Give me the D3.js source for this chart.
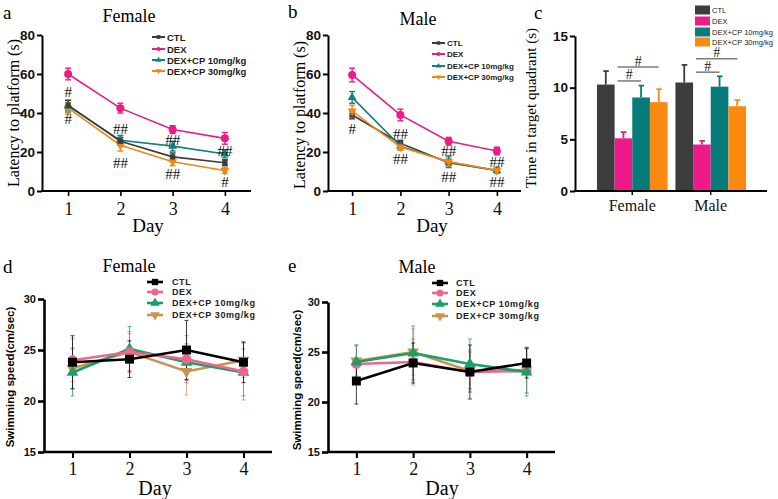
<!DOCTYPE html>
<html><head><meta charset="utf-8">
<script src="https://cdn.jsdelivr.net/npm/d3@7"></script>
<style>body{margin:0;background:#fff}svg{display:block}</style>
</head><body>
<svg id="fig" width="778" height="499"></svg>
<script>
// ---------- data ----------
const days = [1, 2, 3, 4];
const groups = ["CTL", "DEX", "DEX+CP 10mg/kg", "DEX+CP 30mg/kg"];
const sexes = ["Female", "Male"];

// (a) latency, female: rows = groups, cols = days
const latFemale    = [[44, 25.5, 17.5, 14.5], [60, 42.5, 31.5, 27], [43.5, 26, 23, 19], [42.5, 23.5, 15, 10.5]];
const latFemaleErr = [[2.5, 2, 2, 1.5], [3, 2.5, 2, 3], [3, 2.5, 2.5, 2], [3, 3, 2, 1.5]];
const latFemaleSig = [["#", 1, 51], ["#", 1, 37], ["##", 2, 32], ["##", 2, 14.5], ["##", 3, 26], ["##", 3, 8.5], ["##", 4, 20.5], ["#", 4, 4.6]];

// (b) latency, male
const latMale    = [[39, 24.5, 14.5, 10.5], [59.5, 39, 25.5, 20.5], [48, 23, 15, 10.5], [41, 22.5, 15, 10.5]];
const latMaleErr = [[2, 1.5, 1.5, 1], [3.5, 3, 2, 2], [3, 2, 3, 1.5], [3, 1.5, 2, 1.5]];
const latMaleSig = [["#", 1, 32], ["##", 2, 29], ["##", 2, 16.5], ["##", 3, 20.5], ["##", 3, 7], ["##", 4, 15], ["##", 4, 4.5]];

// (c) time in target quadrant: rows = sexes, cols = groups
const quadMean = [[10.3, 5.1, 9.05, 8.6], [10.5, 4.5, 10.1, 8.2]];
const quadErr  = [[1.3, 0.6, 1.15, 1.25], [1.7, 0.35, 1.0, 0.6]];
// significance: [sex, from group, to group, level]
const quadSig = [["Female", 1, 2, 10.65], ["Female", 1, 3, 12.0], ["Male", 1, 2, 11.5], ["Male", 1, 3, 12.8]];

// (d) swimming speed, female
const speedFemale    = [[23.8, 24.1, 25.0, 23.8], [24.0, 24.8, 24.1, 22.9], [22.8, 25.1, 23.8, 22.8], [23.2, 24.8, 22.9, 24.0]];
const speedFemaleErr = [[2.6, 1.8, 2.9, 2.0], [2.1, 1.8, 2.3, 2.8], [2.3, 2.2, 1.8, 2.3], [2.0, 2.0, 2.3, 1.7]];
// (e) swimming speed, male
const speedMale    = [[22.1, 23.9, 23.0, 23.9], [23.8, 24.0, 23.0, 23.1], [24.0, 24.9, 23.8, 23.0], [24.1, 25.0, 23.1, 23.2]];
const speedMaleErr = [[2.3, 2.0, 2.7, 1.5], [1.9, 2.3, 2.0, 2.2], [1.7, 2.7, 2.5, 2.4], [1.5, 2.3, 2.1, 2.3]];

const latTicks = [0, 20, 40, 60, 80];
const quadTicks = [0, 5, 10, 15];
const speedTicks = [15, 20, 25, 30];

// ---------- styles ----------
const colLat = ["#3c3c3c", "#ec1c84", "#12807e", "#f7850f"];
const colBar = ["#3d3d3d", "#ee1a8a", "#077a7a", "#f88a12"];
const colSpd = ["#000000", "#f06490", "#19a067", "#c99450"];
const SERIF = "'Liberation Serif','Times New Roman',serif";
const SANS = "'Liberation Sans',Arial,sans-serif";
const symTypes = [d3.symbolSquare, d3.symbolCircle, d3.symbolTriangle, d3.symbolTriangle];

const svg = d3.select("#fig");
svg.append("rect").attr("width", 778).attr("height", 499).attr("fill", "#fff");

function txt(x, y, s, o) {
  const t = svg.append("text").attr("x", x).attr("y", y).text(s)
    .attr("font-family", o.f || SERIF).attr("font-size", o.s || 16)
    .attr("fill", o.c || "#000").attr("text-anchor", o.a || "middle")
    .attr("dominant-baseline", "central");
  if (o.w) t.attr("font-weight", o.w);
  if (o.ls) t.attr("letter-spacing", o.ls);
  if (o.r) t.attr("transform", `rotate(${o.r},${x},${y})`);
  return t;
}

function linePanel(p) {
  const x = d3.scaleLinear().domain([0.5, 4.5]).range(p.xr);
  const y = d3.scaleLinear().domain(p.yd).range(p.yr);
  const g = svg.append("g");
  // y axis
  const ya = g.append("g").attr("transform", `translate(${p.xr[0]},0)`)
    .call(d3.axisLeft(y).tickValues(p.yt).tickSize(p.tick).tickSizeOuter(0).tickPadding(2).tickFormat(d3.format("d")));
  ya.select(".domain").attr("stroke-width", p.aw).attr("stroke", "#000");
  ya.selectAll(".tick line").attr("stroke-width", p.aw).attr("stroke", "#000");
  ya.selectAll(".tick text").attr("font-family", SANS).attr("font-weight", "bold")
    .attr("font-size", p.yfs).attr("fill", "#111");
  // x axis
  const xa = g.append("g").attr("transform", `translate(0,${p.yr[0]})`)
    .call(d3.axisBottom(x).tickValues(days).tickSize(p.tick).tickSizeOuter(0).tickPadding(p.xpad).tickFormat(d3.format("d")));
  xa.select(".domain").attr("stroke-width", p.aw).attr("stroke", "#000")
    .attr("d", `M${p.xr[0] - p.aw / 2},0H${p.xr[1]}`);
  xa.selectAll(".tick line").attr("stroke-width", p.aw * 0.8).attr("stroke", "#000");
  xa.selectAll(".tick text").attr("font-family", SERIF).attr("font-size", p.xfs).attr("fill", "#111");

  const line = d3.line().x((d, j) => x(days[j])).y(d => y(d));
  const order = p.order || [0, 1, 2, 3];
  // error bars
  order.forEach(i => {
    p.m[i].forEach((v, j) => {
      const cx = x(days[j]), e = p.e[i][j];
      const eg = g.append("g").attr("stroke", p.c[i]).attr("stroke-width", p.ew).attr("opacity", p.eo);
      eg.append("line").attr("x1", cx).attr("x2", cx).attr("y1", y(v - e)).attr("y2", y(v + e));
      eg.append("line").attr("x1", cx - p.cap).attr("x2", cx + p.cap).attr("y1", y(v + e)).attr("y2", y(v + e));
      eg.append("line").attr("x1", cx - p.cap).attr("x2", cx + p.cap).attr("y1", y(v - e)).attr("y2", y(v - e));
    });
  });
  order.forEach(i => {
    g.append("path").attr("d", line(p.m[i])).attr("fill", "none")
      .attr("stroke", p.c[i]).attr("stroke-width", p.lw);
    p.m[i].forEach((v, j) => {
      g.append("path").attr("d", d3.symbol().type(symTypes[i]).size(p.ms[i])())
        .attr("fill", p.c[i])
        .attr("transform", `translate(${x(days[j])},${y(v)})${i === 3 ? " rotate(180)" : ""}`);
    });
  });
  // significance marks
  (p.sig || []).forEach(s => {
    txt(x(s[1]), y(s[2]), s[0], { s: 15, c: "#111" });
  });
  // legend
  const L = p.leg;
  groups.forEach((name, i) => {
    const yy = L.ys[i];
    g.append("line").attr("x1", L.x).attr("x2", L.x + L.len).attr("y1", yy).attr("y2", yy)
      .attr("stroke", p.c[i]).attr("stroke-width", L.lw);
    g.append("path").attr("d", d3.symbol().type(symTypes[i]).size(L.ms)())
      .attr("fill", p.c[i])
      .attr("transform", `translate(${L.x + L.len / 2},${yy})${i === 3 ? " rotate(180)" : ""}`);
    txt(L.x + L.len + L.gap, yy, name, { f: SANS, w: "bold", s: L.fs, a: "start", c: "#222", ls: L.ls });
  });
  // labels
  txt(p.title[0], p.title[1], p.title[2], { s: p.tfs });
  txt(p.letter[0], p.letter[1], p.letter[2], { s: 19, a: "start" });
  txt(p.ylab[0], p.ylab[1], p.ylab[2], { f: p.ylabF, w: p.ylabW, s: p.ylabS, r: -90 });
  txt(p.day[0], p.day[1], "Day", { s: p.dfs });
}

// (a)
linePanel({
  xr: [42, 251], yd: [0, 80], yr: [191, 35], yt: latTicks, tick: 5, aw: 2, yfs: 13.5, xfs: 18, xpad: 6,
  m: latFemale, e: latFemaleErr, c: colLat, lw: 1.6, ew: 1.4, eo: 1, cap: 3, ms: [28, 50, 34, 34],
  order: [3, 2, 0, 1], sig: latFemaleSig,
  leg: { x: 152, len: 13, gap: 2, ys: [37, 49, 60, 71], lw: 2, ms: 14, fs: 9.5 },
  title: [129, 16, "Female"], tfs: 18, letter: [3, 12, "a"],
  ylab: [13, 113, "Latency to platform (s)"], ylabF: SERIF, ylabS: 16, day: [148, 225], dfs: 19
});
// (b)
linePanel({
  xr: [328, 521], yd: [0, 80], yr: [191, 35], yt: latTicks, tick: 5, aw: 2, yfs: 13.5, xfs: 18, xpad: 6,
  m: latMale, e: latMaleErr, c: colLat, lw: 1.6, ew: 1.4, eo: 1, cap: 3, ms: [28, 50, 34, 34],
  order: [0, 2, 3, 1], sig: latMaleSig,
  leg: { x: 432, len: 13, gap: 2, ys: [43, 54, 66, 77], lw: 2, ms: 12, fs: 8 },
  title: [418, 19, "Male"], tfs: 18, letter: [288, 11, "b"],
  ylab: [299, 115, "Latency to platform (s)"], ylabF: SERIF, ylabS: 16, day: [432, 225], dfs: 19
});
// (d)
linePanel({
  xr: [44, 272], yd: [15, 30], yr: [452, 299], yt: speedTicks, tick: 6, aw: 2.6, yfs: 11, xfs: 18, xpad: 4,
  m: speedFemale, e: speedFemaleErr, c: colSpd, lw: 2.6, ew: 1, eo: 0.75, cap: 2, ms: [80, 75, 60, 60],
  order: [3, 2, 1, 0], sig: [],
  leg: { x: 147, len: 16, gap: 9, ys: [282, 292, 303, 315], lw: 2.6, ms: 40, fs: 9, ls: 0.6 },
  title: [129, 266, "Female"], tfs: 18, letter: [3, 266, "d"],
  ylab: [10, 377, "Swimming speed(cm/sec)"], ylabF: SANS, ylabW: "bold", ylabS: 11.5, day: [155, 488], dfs: 20
});
// (e)
linePanel({
  xr: [328, 555], yd: [15, 30], yr: [452, 302], yt: speedTicks, tick: 6, aw: 2.6, yfs: 11, xfs: 18, xpad: 4,
  m: speedMale, e: speedMaleErr, c: colSpd, lw: 2.6, ew: 1, eo: 0.75, cap: 2, ms: [80, 75, 60, 60],
  order: [3, 1, 2, 0], sig: [],
  leg: { x: 432, len: 16, gap: 8, ys: [283, 293, 304, 316], lw: 2.6, ms: 40, fs: 9, ls: 0.6 },
  title: [417, 267, "Male"], tfs: 18, letter: [288, 265, "e"],
  ylab: [297, 380, "Swimming speed(cm/sec)"], ylabF: SANS, ylabW: "bold", ylabS: 11.5, day: [442, 488], dfs: 20
});

// (c) bar chart
(function () {
  const x0 = d3.scaleBand().domain(sexes).range([575, 768]).paddingInner(0.1).paddingOuter(0.28);
  const x1 = d3.scaleBand().domain(groups).range([0, x0.bandwidth()]);
  const y = d3.scaleLinear().domain([0, 15]).range([191, 36]);
  const g = svg.append("g");
  sexes.forEach((s, si) => {
    groups.forEach((gr, gi) => {
      const bx = x0(s) + x1(gr), v = quadMean[si][gi], e = quadErr[si][gi];
      const cx = bx + x1.bandwidth() / 2;
      g.append("line").attr("x1", cx).attr("x2", cx).attr("y1", y(v)).attr("y2", y(v + e))
        .attr("stroke", colBar[gi]).attr("stroke-width", 1.8);
      g.append("line").attr("x1", cx - 2.5).attr("x2", cx + 3).attr("y1", y(v + e)).attr("y2", y(v + e))
        .attr("stroke", colBar[gi]).attr("stroke-width", 1.8);
      g.append("rect").attr("x", bx).attr("y", y(v)).attr("width", x1.bandwidth()).attr("height", y(0) - y(v))
        .attr("fill", colBar[gi]);
    });
  });
  quadSig.forEach(q => {
    const xa = x0(q[0]) + x1(groups[q[1]]) + 3;
    const xb = x0(q[0]) + x1(groups[q[2]]) + x1.bandwidth() / 2;
    g.append("line").attr("x1", xa).attr("x2", xb).attr("y1", y(q[3])).attr("y2", y(q[3]))
      .attr("stroke", "#7a7a7a").attr("stroke-width", 1.5);
    txt((xa + xb) / 2, y(q[3]) - 6, "#", { s: 14, c: "#222" });
  });
  const ya = g.append("g").attr("transform", "translate(575,0)")
    .call(d3.axisLeft(y).tickValues(quadTicks).tickSize(5).tickSizeOuter(0).tickPadding(2));
  ya.select(".domain").attr("stroke-width", 2).attr("stroke", "#000");
  ya.selectAll(".tick line").attr("stroke-width", 2);
  ya.selectAll(".tick text").attr("font-family", SANS).attr("font-weight", "bold").attr("font-size", 13.5).attr("fill", "#111");
  const xa = g.append("g").attr("transform", "translate(0,191)")
    .call(d3.axisBottom(x0).tickSize(4).tickSizeOuter(0).tickPadding(5));
  xa.select(".domain").attr("stroke-width", 2).attr("stroke", "#000").attr("d", "M574,0H767");
  xa.selectAll(".tick line").attr("stroke-width", 1.5);
  xa.selectAll(".tick text").attr("font-family", SERIF).attr("font-size", 16).attr("fill", "#111");
  // legend
  const ly = [10, 21, 32, 42];
  groups.forEach((name, i) => {
    g.append("rect").attr("x", 695).attr("y", ly[i] - 4.5).attr("width", 15).attr("height", 9).attr("fill", colBar[i]);
    txt(712, ly[i], name, { f: SANS, s: 7.5, a: "start", c: "#222" });
  });
  txt(534, 12, "c", { s: 19, a: "start" });
  txt(531, 108, "Time in target quadrant (s)", { s: 15, r: -90 });
})();
</script>
</body></html>
